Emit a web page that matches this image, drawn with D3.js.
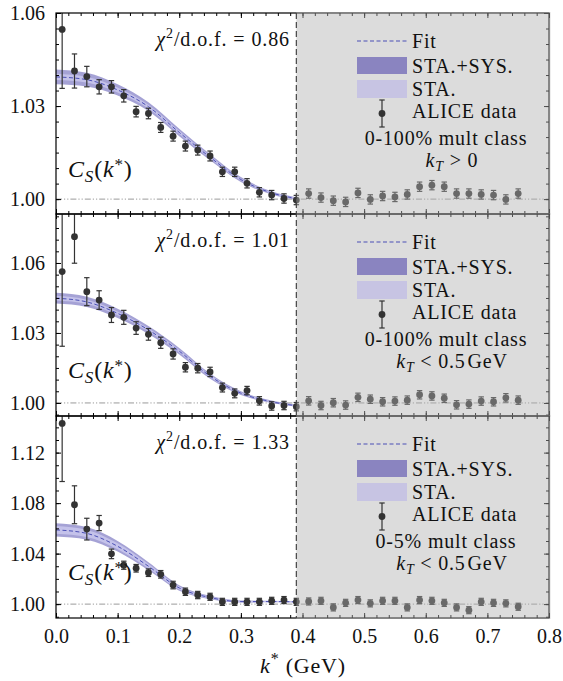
<!DOCTYPE html>
<html>
<head>
<meta charset="utf-8">
<script src="https://cdn.jsdelivr.net/npm/d3@7"></script>
<style>
body{margin:0;background:#fff;}
svg{display:block;font-family:"Liberation Serif","Times New Roman",serif;}
</style>
</head>
<body>
<div id="viz"></div>
<script>
// k* bin centres (GeV)
var kStar=[0.01,0.03,0.05,0.07,0.09,0.11,0.13,0.15,0.17,0.19,0.21,0.23,0.25,0.27,0.29,0.31,0.33,0.35,0.37,
           0.39,0.41,0.43,0.45,0.47,0.49,0.51,0.53,0.55,0.57,0.59,0.61,0.63,0.65,0.67,0.69,0.71,0.73,0.75];

// ALICE data, 0-100% kT>0
var cs1=[1.0547,1.0413,1.0395,1.0362,1.0362,1.0333,1.0282,1.0276,1.0231,1.0203,1.0171,1.0158,1.0139,1.0088,1.0088,1.0051,1.0022,1.0013,1.0002,
         0.9997,1.0018,1.0005,0.9995,0.9991,1.0020,0.9999,1.0010,1.0007,1.0015,1.0040,1.0045,1.0040,1.0018,1.0018,1.0015,1.0013,0.9999,1.0018];
var err1=[0.019,0.0055,0.0033,0.0023,0.0020,0.0020,0.0017,0.0017,0.0016,0.0016,0.0016,0.0016,0.0016,0.0015,0.0015,0.0015,0.0015,0.0015,0.0015,
          0.0015,0.0015,0.0015,0.0015,0.0015,0.0015,0.0015,0.0015,0.0015,0.0015,0.0015,0.0015,0.0015,0.0015,0.0015,0.0015,0.0015,0.0015,0.0015];
// 0-100% kT<0.5
var cs2=[1.0563,1.0713,1.0477,1.0441,1.0377,1.0367,1.0321,1.0294,1.0258,1.0210,1.0153,1.0149,1.0133,1.0066,1.0041,1.0053,1.0009,0.9987,0.9989,
         0.9984,1.0009,0.9989,1.0001,0.9991,1.0024,1.0016,1.0005,1.0008,1.0012,1.0035,1.0030,1.0020,0.9992,0.9995,1.0008,1.0005,1.0022,1.0012];
var err2=[0.032,0.0114,0.0060,0.0040,0.0032,0.0030,0.0027,0.0025,0.0024,0.0022,0.0020,0.0020,0.0020,0.0019,0.0019,0.0018,0.0018,0.0018,0.0018,
          0.0018,0.0018,0.0018,0.0018,0.0018,0.0018,0.0018,0.0018,0.0018,0.0018,0.0018,0.0018,0.0018,0.0018,0.0018,0.0018,0.0018,0.0018,0.0018];
// 0-5% kT<0.5
var cs3=[1.1431,1.0787,1.0594,1.0642,1.0398,1.0308,1.0284,1.0249,1.0236,1.0151,1.0098,1.0072,1.0058,1.0018,1.0018,1.0018,1.0018,1.0026,1.0032,
         1.0018,1.0021,1.0026,0.9974,1.0010,1.0032,1.0006,1.0026,1.0026,0.9974,1.0032,1.0026,1.0010,0.9974,0.9952,1.0018,1.0010,1.0006,0.9979];
var err3=[0.046,0.015,0.0086,0.0060,0.0038,0.0032,0.0030,0.0030,0.0030,0.0030,0.0029,0.0029,0.0028,0.0028,0.0028,0.0028,0.0028,0.0028,0.0028,
          0.0028,0.0028,0.0028,0.0028,0.0028,0.0028,0.0028,0.0028,0.0028,0.0028,0.0028,0.0028,0.0028,0.0028,0.0028,0.0028,0.0028,0.0028,0.0028];

// fit curves (central value) and band half widths
var fitK=[0,0.05,0.10,0.15,0.20,0.25,0.30,0.35,0.39];
var fit1=[1.0394,1.0385,1.0352,1.0298,1.0215,1.0135,1.0063,1.0020,1.0002];
var sys1=[0.0024,0.0022,0.0018,0.0014,0.0012,0.0010,0.0008,0.0005,0.0004];
var sta1=[0.0010,0.0009,0.0008,0.0006,0.0005,0.0004,0.0003,0.0002,0.0002];
var fit2=[1.0449,1.0433,1.0384,1.0313,1.0222,1.0115,1.0042,1.0005,0.9988];
var sys2=[0.0023,0.0022,0.0020,0.0017,0.0014,0.0011,0.0008,0.0005,0.0004];
var sta2=[0.0010,0.0009,0.0008,0.0007,0.0006,0.0005,0.0003,0.0002,0.0002];
var fit3=[1.0588,1.0560,1.0458,1.0300,1.0128,1.0052,1.0020,1.0020,1.0018];
var sys3=[0.0053,0.0050,0.0042,0.0032,0.0022,0.0014,0.0008,0.0006,0.0005];
var sta3=[0.0030,0.0028,0.0024,0.0018,0.0012,0.0008,0.0005,0.0004,0.0003];

var chiLabels=["0.86","1.01","1.33"];
var multLabels=["0-100% mult class","0-100% mult class","0-5% mult class"];
var ktLabels=[["> 0",""],["< 0.5","GeV"],["< 0.5","GeV"]];
var yTicks=[[1.00,1.03,1.06],[1.00,1.03,1.06],[1.00,1.04,1.08,1.12]];
var xTicks=[0,0.1,0.2,0.3,0.4,0.5,0.6,0.7,0.8];
var kCut=0.39;

var width=563, height=681;
var svg=d3.select("#viz").append("svg")
  .attr("width",width).attr("height",height);

var x=d3.scaleLinear().domain([0,0.8]).range([56,549]);

var panels=[
  {top:13, bottom:214, dom:[0.9952,1.06], minor:0.005, cs:cs1, err:err1, fit:fit1, sys:sys1, sta:sta1},
  {top:214,bottom:416, dom:[0.9944,1.081],minor:0.005, cs:cs2, err:err2, fit:fit2, sys:sys2, sta:sta2},
  {top:416,bottom:618, dom:[0.989,1.149], minor:0.01,  cs:cs3, err:err3, fit:fit3, sys:sys3, sta:sta3}
];

var x0=x(0), x1=x(0.8);
var dotColor="#333";

panels.forEach(function(p,pi){
  var y=d3.scaleLinear().domain(p.dom).range([p.bottom,p.top]);
  var g=svg.append("g");

  svg.append("clipPath").attr("id","clip"+pi)
    .append("rect").attr("x",x0).attr("y",p.top).attr("width",x1-x0).attr("height",p.bottom-p.top);
  var inner=g.append("g").attr("clip-path","url(#clip"+pi+")");

  // reference line at 1
  inner.append("line")
    .attr("x1",x0).attr("x2",x1).attr("y1",y(1)).attr("y2",y(1))
    .attr("stroke","#9a9a9a").attr("stroke-width",1)
    .attr("stroke-dasharray","6,2,1.2,2,1.2,2");

  // bands
  var rows=fitK.map(function(k,i){return {k:k,f:p.fit[i],s:p.sys[i],t:p.sta[i]};});
  var outer=d3.area().x(function(d){return x(d.k);})
    .y0(function(d){return y(d.f-d.s);}).y1(function(d){return y(d.f+d.s);})
    .curve(d3.curveMonotoneX);
  var innerA=d3.area().x(function(d){return x(d.k);})
    .y0(function(d){return y(d.f-d.t);}).y1(function(d){return y(d.f+d.t);})
    .curve(d3.curveMonotoneX);
  inner.append("path").attr("d",outer(rows)).attr("fill","#8f8bcb").attr("opacity",0.8);
  inner.append("path").attr("d",innerA(rows)).attr("fill","#c4c2ea");
  inner.append("path")
    .attr("d",d3.line().x(function(d){return x(d.k);}).y(function(d){return y(d.f);}).curve(d3.curveMonotoneX)(rows))
    .attr("fill","none").attr("stroke","#4a4fb5").attr("stroke-width",1).attr("stroke-dasharray","4,2.5");

  // data points
  var pts=kStar.map(function(k,i){return {k:k,v:p.cs[i],e:p.err[i]};});
  var pg=inner.selectAll("g.pt").data(pts).enter().append("g").attr("class","pt");
  pg.append("line")
    .attr("x1",function(d){return x(d.k);}).attr("x2",function(d){return x(d.k);})
    .attr("y1",function(d){return y(d.v-d.e);}).attr("y2",function(d){return y(d.v+d.e);})
    .attr("stroke",dotColor).attr("stroke-width",1.2);
  pg.append("line")
    .attr("x1",function(d){return x(d.k)-2.7;}).attr("x2",function(d){return x(d.k)+2.7;})
    .attr("y1",function(d){return y(d.v-d.e);}).attr("y2",function(d){return y(d.v-d.e);})
    .attr("stroke",dotColor).attr("stroke-width",1.2);
  pg.append("line")
    .attr("x1",function(d){return x(d.k)-2.7;}).attr("x2",function(d){return x(d.k)+2.7;})
    .attr("y1",function(d){return y(d.v+d.e);}).attr("y2",function(d){return y(d.v+d.e);})
    .attr("stroke",dotColor).attr("stroke-width",1.2);
  pg.append("circle")
    .attr("cx",function(d){return x(d.k);}).attr("cy",function(d){return y(d.v);})
    .attr("r",3.4).attr("fill",dotColor);

  // axes: ticks pointing inward on all four sides
  var minorY=d3.range(Math.ceil(p.dom[0]/p.minor)*p.minor,p.dom[1],p.minor);
  var minorX=d3.range(0,0.8001,0.02);
  var left=g.append("g").attr("transform","translate("+x0+",0)")
    .call(d3.axisLeft(y).tickValues(yTicks[pi]).tickSize(-5).tickPadding(11).tickFormat(d3.format(".2f")));
  left.select(".domain").remove();
  left.selectAll("text").style("font-size","20px").attr("fill","#111");
  left.attr("font-family",null).attr("font-size",null);
  g.append("g").attr("transform","translate("+x0+",0)")
    .call(d3.axisLeft(y).tickValues(minorY).tickSize(-3).tickFormat(""))
    .select(".domain").remove();
  g.append("g").attr("transform","translate("+x1+",0)")
    .call(d3.axisRight(y).tickValues(yTicks[pi]).tickSize(-5).tickFormat(""))
    .select(".domain").remove();
  g.append("g").attr("transform","translate("+x1+",0)")
    .call(d3.axisRight(y).tickValues(minorY).tickSize(-3).tickFormat(""))
    .select(".domain").remove();
  [p.top,p.bottom].forEach(function(yy,j){
    var ax=j==0?d3.axisTop:d3.axisBottom;
    g.append("g").attr("transform","translate(0,"+yy+")")
      .call(ax(x).tickValues(xTicks).tickSize(-5).tickFormat(""))
      .select(".domain").remove();
    g.append("g").attr("transform","translate(0,"+yy+")")
      .call(ax(x).tickValues(minorX).tickSize(-3).tickFormat(""))
      .select(".domain").remove();
  });

  // frame
  g.append("rect").attr("x",x0).attr("y",p.top).attr("width",x1-x0).attr("height",p.bottom-p.top)
    .attr("fill","none").attr("stroke","#000").attr("stroke-width",1.2);

  // grey veil over the region above the cut
  g.append("rect").attr("x",x(kCut)).attr("y",p.top-1).attr("width",x1-x(kCut)+1.5).attr("height",p.bottom-p.top+2)
    .attr("fill","#b0b0b0").attr("opacity",0.44);

  // chi2 text
  var chi=g.append("text").attr("x",290).attr("y",p.top+33).attr("text-anchor","end")
    .style("font-size","20px").style("letter-spacing","0.9px").attr("fill","#111");
  chi.append("tspan").attr("font-style","italic").text("\u03c7");
  chi.append("tspan").attr("dy",-8).style("font-size","14px").text("2");
  chi.append("tspan").attr("dy",8).text("/d.o.f. = "+chiLabels[pi]);

  // C_S(k*) text
  var cs=g.append("text").attr("x",68).attr("y",p.top+164).style("font-size","24px")
    .style("letter-spacing","0.8px").attr("fill","#111");
  cs.append("tspan").attr("font-style","italic").text("C");
  cs.append("tspan").attr("font-style","italic").attr("dy",5).style("font-size","17px").text("S");
  cs.append("tspan").attr("dy",-5).text("(");
  cs.append("tspan").attr("font-style","italic").text("k");
  cs.append("tspan").attr("dy",-7).style("font-size","17px").text("*");
  cs.append("tspan").attr("dy",7).text(")");

  // legend
  var lg=g.append("g").style("font-size","20px").style("letter-spacing","0.8px").attr("fill","#111");
  var lx0=357, lx1=407, tx=412;
  lg.append("line").attr("x1",lx0).attr("x2",lx1).attr("y1",p.top+28).attr("y2",p.top+28)
    .attr("stroke","#4a4fb5").attr("stroke-width",1).attr("stroke-dasharray","4,2.5");
  lg.append("text").attr("x",tx).attr("y",p.top+35).text("Fit");
  lg.append("rect").attr("x",lx0).attr("y",p.top+44).attr("width",lx1-lx0).attr("height",17).attr("fill","#8a84c0");
  lg.append("text").attr("x",tx).attr("y",p.top+60).text("STA.+SYS.");
  lg.append("rect").attr("x",lx0).attr("y",p.top+67).attr("width",lx1-lx0).attr("height",18).attr("fill","#c7c4e3");
  lg.append("text").attr("x",tx).attr("y",p.top+83).text("STA.");
  var mx=(lx0+lx1)/2;
  lg.append("line").attr("x1",mx).attr("x2",mx).attr("y1",p.top+87).attr("y2",p.top+114).attr("stroke",dotColor).attr("stroke-width",1.2);
  lg.append("line").attr("x1",mx-2.7).attr("x2",mx+2.7).attr("y1",p.top+87).attr("y2",p.top+87).attr("stroke",dotColor).attr("stroke-width",1.2);
  lg.append("line").attr("x1",mx-2.7).attr("x2",mx+2.7).attr("y1",p.top+114).attr("y2",p.top+114).attr("stroke",dotColor).attr("stroke-width",1.2);
  lg.append("circle").attr("cx",mx).attr("cy",p.top+100.5).attr("r",3.4).attr("fill",dotColor);
  lg.append("text").attr("x",tx).attr("y",p.top+105).text("ALICE data");
  lg.append("text").attr("x",446).attr("y",p.top+132).attr("text-anchor","middle").text(multLabels[pi]);
  var kt=lg.append("text").attr("x",452).attr("y",p.top+154).attr("text-anchor","middle");
  kt.append("tspan").attr("font-style","italic").text("k");
  kt.append("tspan").attr("font-style","italic").attr("dy",4).style("font-size","14px").text("T");
  kt.append("tspan").attr("dy",-4).text(" "+ktLabels[pi][0]);
  if(ktLabels[pi][1]) kt.append("tspan").attr("dx",2).text(ktLabels[pi][1]);
});

// vertical cut line across all panels
svg.append("line").attr("x1",x(kCut)).attr("x2",x(kCut)).attr("y1",13).attr("y2",618)
  .attr("stroke","#444").attr("stroke-width",1.2).attr("stroke-dasharray","6,3");

// bottom tick labels
var xl=svg.append("g").attr("transform","translate(0,618)")
  .call(d3.axisBottom(x).tickValues(xTicks).tickSize(0).tickPadding(11).tickFormat(d3.format(".1f")));
xl.select(".domain").remove();
xl.attr("font-family",null).attr("font-size",null);
xl.selectAll("text").style("font-size","20px").attr("fill","#111");

// x title
var xt=svg.append("text").attr("x",303).attr("y",673).attr("text-anchor","middle")
  .style("font-size","22px").style("letter-spacing","0.8px").attr("fill","#111");
xt.append("tspan").attr("font-style","italic").text("k");
xt.append("tspan").attr("dy",-9).style("font-size","16px").text("*");
xt.append("tspan").attr("dy",9).text(" (GeV)");
</script>
</body>
</html>
